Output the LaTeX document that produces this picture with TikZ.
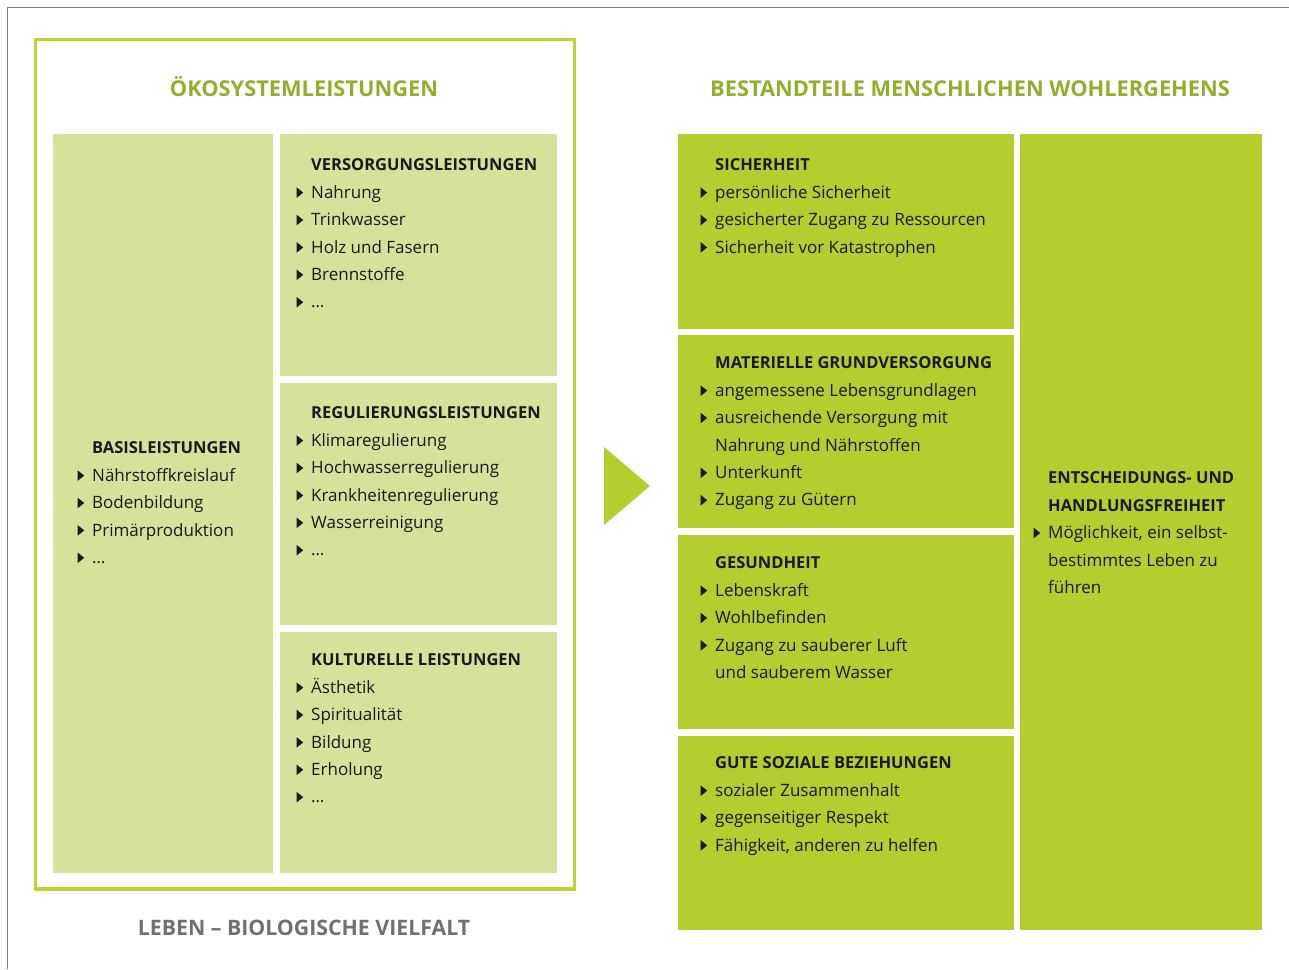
\documentclass[tikz,border=0pt]{standalone}
\usepackage{fontspec}
\setmainfont{Open Sans}
\definecolor{lime}{HTML}{B5CD2E}
\definecolor{limepale}{HTML}{D6E299}
\definecolor{olive}{HTML}{93AE2A}
\definecolor{limeline}{HTML}{BDD431}
\definecolor{greytxt}{HTML}{707070}
\newcommand{\bul}{\llap{\tikz[baseline=0pt]\fill (0pt,0.5pt) -- (0pt,11pt) -- (6.5pt,5.75pt) -- cycle;\hspace{8pt}}}
\newcommand{\hd}[1]{{\fontsize{16.5}{27.4}\selectfont\bfseries #1}}

\begin{document}
\begin{tikzpicture}[x=1pt, y=-1pt,
  pale/.style={fill=limepale, anchor=north west, inner sep=0pt},
  full/.style={fill=lime, anchor=north west, inner sep=0pt},
  title/.style={text=olive, anchor=base, inner sep=0pt, font=\fontsize{21.8}{24}\selectfont\bfseries},
  txt/.style={anchor=north west, align=left, inner sep=0pt, text=black!90, font=\fontsize{17}{27.4}\selectfont, execute at begin node=\strut}]
\useasboundingbox (0,0) rectangle (1289,969);
\draw[black!50, line width=1pt] (7,969) -- (7,7) -- (1289,7);
\draw[limeline, line width=3.5pt] (35.3,39.3) rectangle (574.5,889);

% left side
\node[title] (eko) at (304,96) {ÖKOSYSTEMLEISTUNGEN};
\node[pale, minimum width=220pt, minimum height=739pt] (basis) at (53,134) {};
\node[pale, minimum width=277pt, minimum height=242pt] (vers) at (280,134) {};
\node[pale, minimum width=277pt, minimum height=242pt] (reg) at (280,383) {};
\node[pale, minimum width=277pt, minimum height=241pt] (kult) at (280,632) {};

\node[txt] (t1) at (92,441.8) {\hd{BASISLEISTUNGEN}\\ \bul Nährstoffkreislauf\\ \bul Bodenbildung\\ \bul Primärproduktion\\ \bul …};
\node[txt] (t2) at (311,158.8) {\hd{VERSORGUNGSLEISTUNGEN}\\ \bul Nahrung\\ \bul Trinkwasser\\ \bul Holz und Fasern\\ \bul Brennstoffe\\ \bul …};
\node[txt] (t3) at (311,406.8) {\hd{REGULIERUNGSLEISTUNGEN}\\ \bul Klimaregulierung\\ \bul Hochwasserregulierung\\ \bul Krankheitenregulierung\\ \bul Wasserreinigung\\ \bul …};
\node[txt] (t4) at (311,653.8) {\hd{KULTURELLE LEISTUNGEN}\\ \bul Ästhetik\\ \bul Spiritualität\\ \bul Bildung\\ \bul Erholung\\ \bul …};

\node[title, text=greytxt, font=\fontsize{21.3}{24}\selectfont\bfseries] (leben) at (304,935) {LEBEN – BIOLOGISCHE VIELFALT};

% arrow
\fill[lime] (604,447) -- (650,486) -- (604,525) -- cycle;

% right side
\node[title] (wohl) at (970,96) {BESTANDTEILE MENSCHLICHEN WOHLERGEHENS};
\node[full, minimum width=336pt, minimum height=195pt] (sich) at (678,134) {};
\node[full, minimum width=336pt, minimum height=193pt] (mat) at (678,335) {};
\node[full, minimum width=336pt, minimum height=194pt] (ges) at (678,535) {};
\node[full, minimum width=336pt, minimum height=194pt] (soz) at (678,736) {};
\node[full, minimum width=242pt, minimum height=796pt] (frei) at (1020,134) {};

\node[txt] (t5) at (715,158.8) {\hd{SICHERHEIT}\\ \bul persönliche Sicherheit\\ \bul gesicherter Zugang zu Ressourcen\\ \bul Sicherheit vor Katastrophen};
\node[txt] (t6) at (715,356.8) {\hd{MATERIELLE GRUNDVERSORGUNG}\\ \bul angemessene Lebensgrundlagen\\ \bul ausreichende Versorgung mit\\ Nahrung und Nährstoffen\\ \bul Unterkunft\\ \bul Zugang zu Gütern};
\node[txt] (t7) at (715,556.8) {\hd{GESUNDHEIT}\\ \bul Lebenskraft\\ \bul Wohlbefinden\\ \bul Zugang zu sauberer Luft\\ und sauberem Wasser};
\node[txt] (t8) at (715,756.8) {\hd{GUTE SOZIALE BEZIEHUNGEN}\\ \bul sozialer Zusammenhalt\\ \bul gegenseitiger Respekt\\ \bul Fähigkeit, anderen zu helfen};
\node[txt] (t9) at (1048,471.8) {\hd{ENTSCHEIDUNGS- UND}\\ \hd{HANDLUNGSFREIHEIT}\\ \bul Möglichkeit, ein selbst-\\ bestimmtes Leben zu\\ führen};
\end{tikzpicture}
\end{document}
